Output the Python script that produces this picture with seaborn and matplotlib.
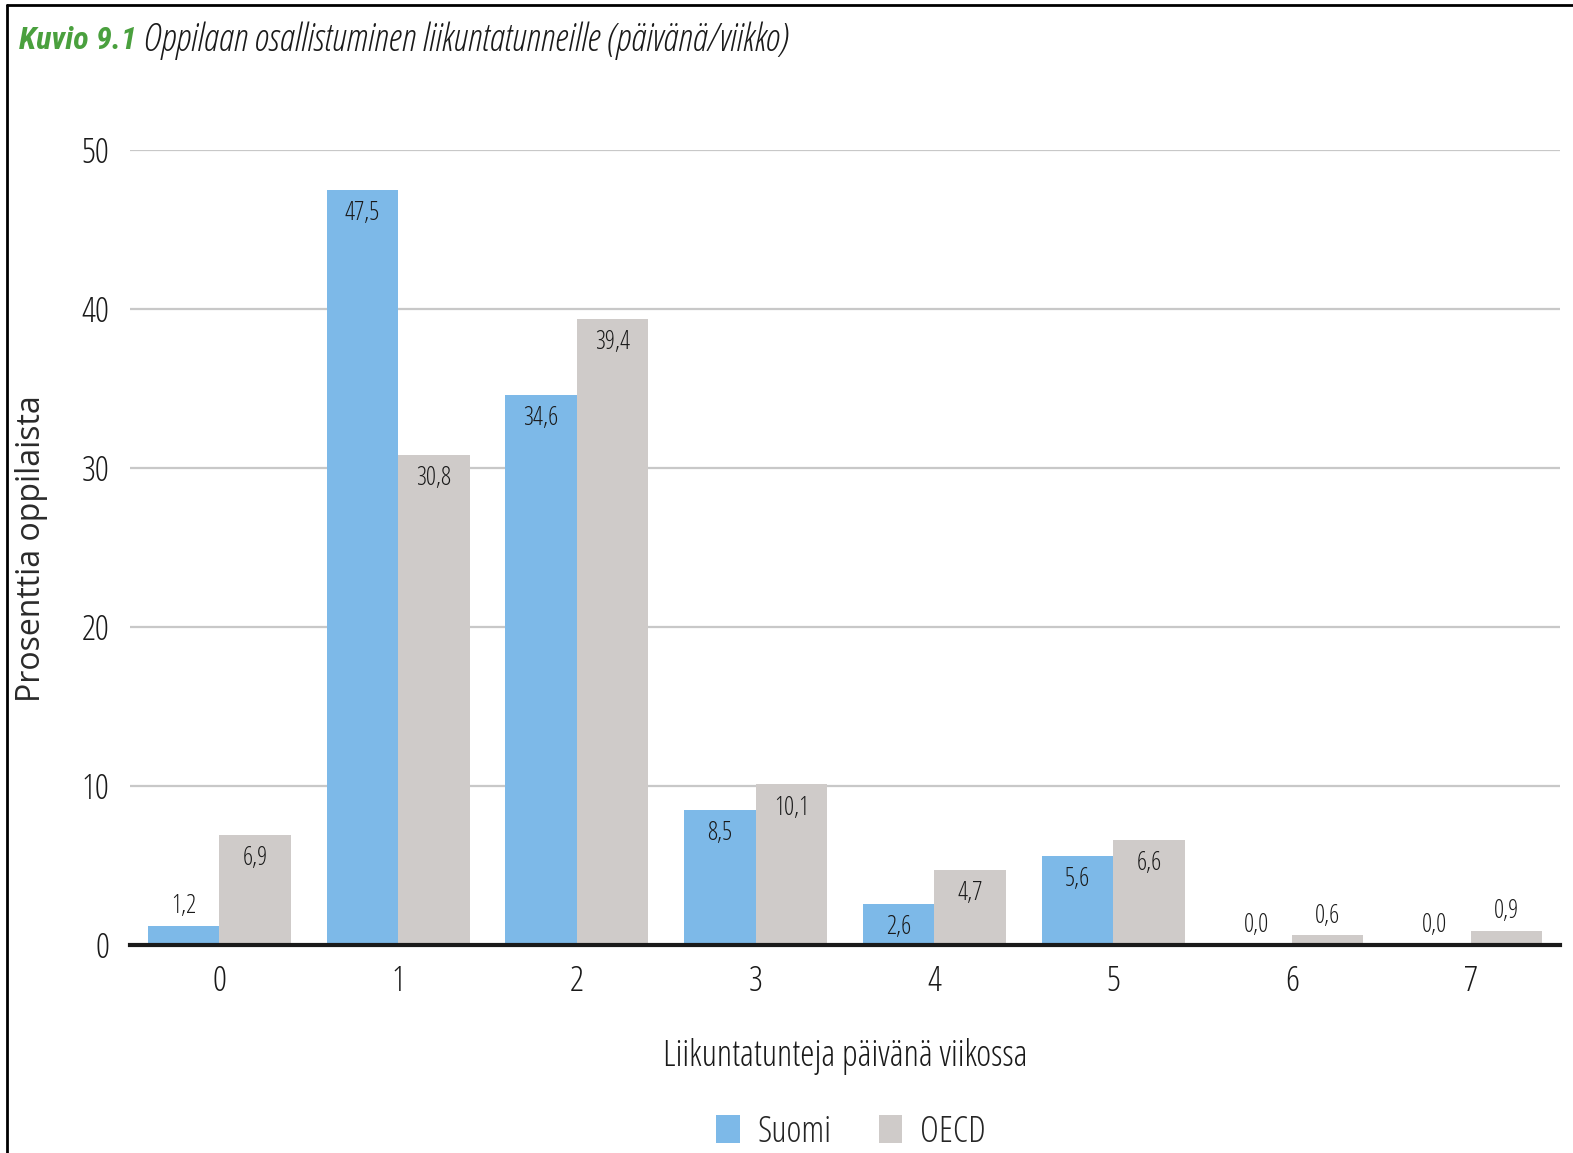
import pandas as pd
import numpy as np
import matplotlib
matplotlib.use("Agg")
import matplotlib.pyplot as plt
from matplotlib.lines import Line2D
from matplotlib.patches import Patch
import seaborn as sns

# Data
days = ['0', '1', '2', '3', '4', '5', '6', '7']
suomi = [1.2, 47.5, 34.6, 8.5, 2.6, 5.6, 0.0, 0.0]
oecd = [6.9, 30.8, 39.4, 10.1, 4.7, 6.6, 0.6, 0.9]
series = ['Suomi', 'OECD']
colors = ['#7DB9E8', '#CFCBC9']

df = pd.DataFrame({
    'Päiviä': days * 2,
    'Osuus': suomi + oecd,
    'Maa': ['Suomi'] * len(days) + ['OECD'] * len(days),
})

sns.set_style("white")
plt.rcParams['font.family'] = ['Open Sans', 'DejaVu Sans']
plt.rcParams['font.stretch'] = 'condensed'
TXT = '#1a1a1a'

fig = plt.figure(figsize=(15.73, 11.53), dpi=100)
ax = fig.add_axes([0.0826, 0.1804, 0.9091, 0.6895])

sns.barplot(data=df, x='Päiviä', y='Osuus', hue='Maa', hue_order=series,
            palette=colors, width=0.8, saturation=1, ax=ax, legend=False,
            edgecolor='none', linewidth=0)

ax.set_ylim(0, 50)
ax.set_xlim(-0.5, 7.5)
ax.set_yticks([0, 10, 20, 30, 40, 50])
ax.yaxis.grid(True, color='#C8C8C8', linewidth=1.6)
ax.set_axisbelow(True)
for s in ['left', 'right', 'top']:
    ax.spines[s].set_visible(False)
ax.spines['bottom'].set_color('#1a1a1a')
ax.spines['bottom'].set_linewidth(3)
ax.tick_params(axis='both', length=0, labelsize=25, colors=TXT)
ax.tick_params(axis='x', pad=14)
ax.tick_params(axis='y', pad=15)
ax.set_xlabel('Liikuntatunteja päivänä viikossa', fontsize=26, color=TXT, labelpad=28)
ax.set_ylabel('')
fig.text(0.02, 0.524, 'Prosenttia oppilaista', rotation=90, va='center', ha='center',
         fontsize=23, color='#2a2a2a', stretch='normal')

# value labels
for cont in ax.containers:
    for bar in cont:
        v = bar.get_height()
        x = bar.get_x() + bar.get_width() / 2
        txt = f"{v:.1f}".replace('.', ',')
        dy = -17 if v >= 2 else 14
        ax.annotate(txt, (x, v), xytext=(0, dy), textcoords='offset points',
                    ha='center', va='center', fontsize=18, color=TXT)

# legend
handles = [Patch(facecolor=c, edgecolor='none') for c in colors]
fig.legend(handles, series, loc='center', bbox_to_anchor=(0.541, 0.018), ncol=2,
           frameon=False, fontsize=26, handlelength=0.64, handleheight=0.8,
           handletextpad=0.5, columnspacing=1.3)

# title
t1 = fig.text(0.012, 0.965, 'Kuvio 9.1', fontsize=23, fontweight='bold', style='italic',
              color='#4AA03E', va='center', ha='left', family=['Roboto Condensed'],
              stretch='normal')
ax.annotate(' Oppilaan osallistuminen liikuntatunneille (päivänä/viikko)', xy=(1, 0.5),
            xycoords=t1, va='center', ha='left', fontsize=27, style='italic', color=TXT)

# frame lines
fig.add_artist(Line2D([0.0045, 0.0045], [0, 0.9957], transform=fig.transFigure,
                      color='black', linewidth=2))
fig.add_artist(Line2D([0.0045, 1], [0.9957, 0.9957], transform=fig.transFigure,
                      color='black', linewidth=2))

fig.savefig('out.png', dpi=100)
